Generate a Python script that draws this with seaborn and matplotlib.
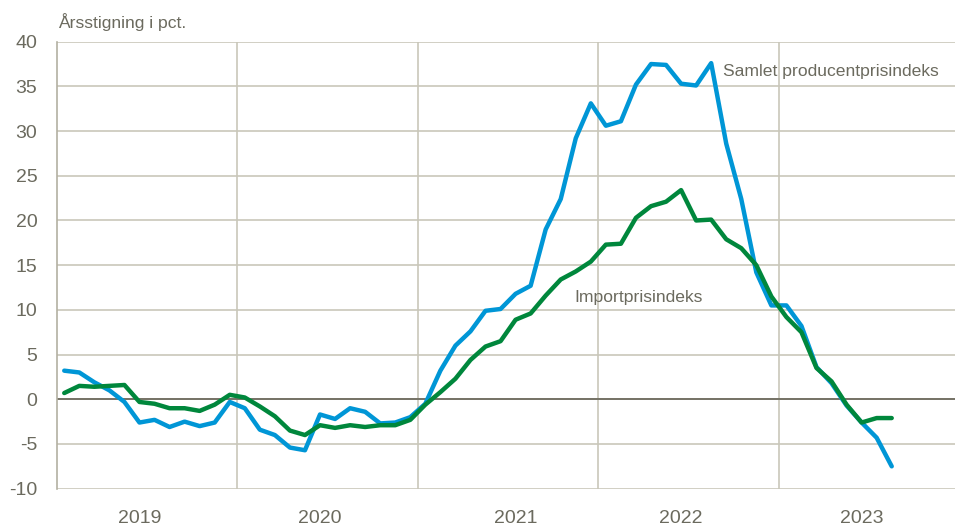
import numpy as np
import pandas as pd
import matplotlib
matplotlib.use("Agg")
import matplotlib.pyplot as plt
import seaborn as sns
from matplotlib import font_manager

# Monthly data, Jan 2019 - Aug 2023
samlet = [3.2, 3.0, 1.9, 1.0, -0.3, -2.6, -2.3, -3.1, -2.5, -3.0, -2.6, -0.3,
          -1.0, -3.4, -4.0, -5.4, -5.7, -1.7, -2.2, -1.0, -1.4, -2.7, -2.6, -2.0,
          -0.5, 3.2, 6.0, 7.6, 9.9, 10.1, 11.8, 12.7, 19.0, 22.4, 29.2, 33.1,
          30.6, 31.1, 35.2, 37.5, 37.4, 35.3, 35.1, 37.6, 28.6, 22.4, 14.2, 10.5,
          10.5, 8.2, 3.6, 1.8, -0.7, -2.6, -4.3, -7.5]
import_idx = [0.7, 1.5, 1.4, 1.5, 1.6, -0.3, -0.5, -1.0, -1.0, -1.3, -0.6, 0.5,
              0.2, -0.8, -1.9, -3.5, -4.0, -2.9, -3.2, -2.9, -3.1, -2.9, -2.9, -2.3,
              -0.6, 0.8, 2.3, 4.4, 5.9, 6.5, 8.9, 9.6, 11.6, 13.4, 14.3, 15.4,
              17.3, 17.4, 20.3, 21.6, 22.1, 23.4, 20.0, 20.1, 17.9, 16.9, 15.0, 11.5,
              9.2, 7.5, 3.5, 2.0, -0.6, -2.6, -2.1, -2.1]
years = ["2019", "2020", "2021", "2022", "2023"]
y_ticks = [-10, -5, 0, 5, 10, 15, 20, 25, 30, 35, 40]
series_names = ["Samlet producentprisindeks", "Importprisindeks"]
title = "Årsstigning i pct."

sns.set_theme(style="white")
fams = [f.name for f in font_manager.fontManager.ttflist]
main_font = "Liberation Sans Narrow" if "Liberation Sans Narrow" in fams else "Liberation Sans"
plt.rcParams["font.family"] = [main_font, "DejaVu Sans"]

text_col = "#6b6a5e"
grid_col = "#c9c7ba"
blue = "#0096d6"
green = "#00873c"

n = len(samlet)
x = np.arange(n) + 0.5
df = pd.DataFrame({
    "x": np.concatenate([x, x]),
    "v": samlet + import_idx,
    "serie": [series_names[0]] * n + [series_names[1]] * n,
})

fig = plt.figure(figsize=(9.55, 5.27), dpi=100)
ax = fig.add_axes([0.0594, 0.0727, 0.9405, 0.8482])

# grid
for yv in y_ticks:
    ax.axhline(yv, color=grid_col, lw=1.2, zorder=0)
for k in range(1, len(years)):
    ax.axvline(12 * k, color=grid_col, lw=1.2, zorder=0)
ax.axhline(0, color="#6e6b5e", lw=1.3, zorder=1)

sns.lineplot(data=df, x="x", y="v", hue="serie", palette=[blue, green],
             linewidth=3.2, ax=ax, legend=False, zorder=3)

ax.set_xlim(0, 59.7)
ax.set_ylim(-10, 40)
ax.set_yticks(y_ticks)
ax.set_yticklabels([str(t) for t in y_ticks], color=text_col, fontsize=14)
label_offsets = [5.5, 5.5, 6.5, 5.5, 5.5]
ax.set_xticks([12 * k + off for k, off in enumerate(label_offsets)])
ax.set_xticklabels(years, color=text_col, fontsize=14)
ax.tick_params(axis="y", length=0, pad=14)
ax.tick_params(axis="x", length=0, pad=15)
ax.set_xlabel("")
ax.set_ylabel("")
for s in ["top", "right", "bottom"]:
    ax.spines[s].set_visible(False)
ax.spines["left"].set_color("#b3b0a2")
ax.spines["left"].set_linewidth(1.2)

ax.text(44.3, 36.7, series_names[0], color=text_col, fontsize=12.6, va="center", ha="left")
ax.text(34.4, 11.4, series_names[1], color=text_col, fontsize=12.6, va="center", ha="left")

fig.text(58 / 955, 1 - 22 / 527, title, color=text_col, fontsize=12.6, va="center", ha="left")

fig.savefig("out.png", dpi=100)
